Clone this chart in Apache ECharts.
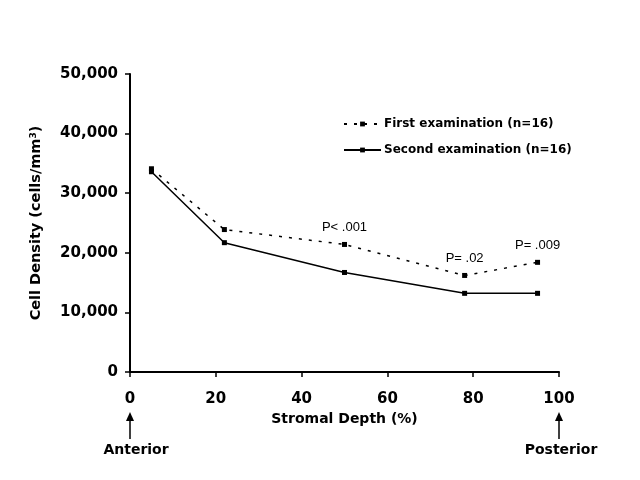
<!DOCTYPE html>
<html>
<head>
<meta charset="utf-8">
<script src="https://cdn.jsdelivr.net/npm/echarts@6/dist/echarts.min.js"></script>
<style>html,body{margin:0;padding:0;background:#fff}#c{width:640px;height:480px}</style>
</head>
<body>
<div id="c"></div>
<script>
var depths = [5, 22, 50, 78, 95];
var firstExam = [34100, 23900, 21400, 16200, 18400];
var secondExam = [33600, 21700, 16700, 13200, 13200];
var pLabels = ['', '', 'P< .001', 'P= .02', 'P= .009'];
var seriesNames = ['First examination (n=16)', 'Second examination (n=16)'];
var xTicks = [0, 20, 40, 60, 80, 100];
var yTicks = [0, 10000, 20000, 30000, 40000, 50000];

var bfont = '"DejaVu Sans", sans-serif';
var font = 'Arial, "Liberation Sans", sans-serif';
var chart = echarts.init(document.getElementById('c'));

function pairs(vals, withLabels) {
  return depths.map(function (d, i) {
    var item = { value: [d, vals[i]] };
    if (withLabels && pLabels[i]) {
      item.label = { show: true, formatter: pLabels[i], position: 'top', distance: 8,
        color: '#000', fontSize: 13, fontFamily: font };
    }
    return item;
  });
}

chart.setOption({
  animation: false,
  backgroundColor: '#fff',
  grid: { left: 130, right: 81, top: 74, bottom: 108, containLabel: false },
  legend: {
    orient: 'vertical', left: 338, top: 113, itemGap: 14, padding: 5,
    itemWidth: 37, itemHeight: 6,
    textStyle: { color: '#000', fontWeight: 'bold', fontSize: 12, fontFamily: bfont, padding: [0, 0, 0, -2] },
    data: seriesNames
  },
  xAxis: {
    type: 'value', min: xTicks[0], max: xTicks[xTicks.length - 1], interval: 20,
    name: 'Stromal Depth (%)', nameLocation: 'middle', nameGap: 37,
    nameTextStyle: { color: '#000', fontWeight: 'bold', fontSize: 14, fontFamily: bfont },
    axisLine: { lineStyle: { color: '#000', width: 2 } },
    axisTick: { show: true, length: 5, lineStyle: { color: '#000', width: 1.5 } },
    axisLabel: { color: '#000', fontWeight: 'bold', fontSize: 15, fontFamily: bfont, margin: 20 },
    splitLine: { show: false }
  },
  yAxis: {
    type: 'value', min: yTicks[0], max: yTicks[yTicks.length - 1], interval: 10000,
    name: '{a|Cell Density (cells/mm}{s|3}{a|)}', nameLocation: 'middle', nameGap: 86,
    nameRotate: 90,
    nameTextStyle: {
      rich: {
        a: { color: '#000', fontWeight: 'bold', fontSize: 14.5, fontFamily: bfont },
        s: { color: '#000', fontWeight: 'bold', fontSize: 9, fontFamily: bfont, verticalAlign: 'top', padding: [0, 0, 6, 0] }
      }
    },
    axisLine: { show: true, lineStyle: { color: '#000', width: 2 } },
    axisTick: { show: true, length: 5, lineStyle: { color: '#000', width: 1.5 } },
    axisLabel: {
      color: '#000', fontWeight: 'bold', fontSize: 15, fontFamily: bfont, margin: 12,
      formatter: function (v) { return v.toLocaleString('en-US'); }
    },
    splitLine: { show: false }
  },
  series: [
    {
      name: seriesNames[0], type: 'line', data: pairs(firstExam, true),
      symbol: 'rect', symbolSize: 5,
      lineStyle: { color: '#000', width: 1.5, type: [3, 7] },
      itemStyle: { color: '#000' }
    },
    {
      name: seriesNames[1], type: 'line', data: pairs(secondExam, false),
      symbol: 'rect', symbolSize: 5,
      lineStyle: { color: '#000', width: 1.5, type: 'solid' },
      itemStyle: { color: '#000' }
    }
  ]
});

var x0 = chart.convertToPixel({ xAxisIndex: 0 }, xTicks[0]);
var x1 = chart.convertToPixel({ xAxisIndex: 0 }, xTicks[xTicks.length - 1]);
function arrow(x, label, dx) {
  return [
    { type: 'line', shape: { x1: x, y1: 418, x2: x, y2: 439 }, style: { stroke: '#000', lineWidth: 1.5 } },
    { type: 'polygon', shape: { points: [[x, 412], [x - 4, 421], [x + 4, 421]] }, style: { fill: '#000' } },
    { type: 'text', x: x + dx, y: 450,
      style: { text: label, align: 'center', verticalAlign: 'middle', fill: '#000',
        font: 'bold 14px ' + bfont } }
  ];
}
chart.setOption({ graphic: arrow(x0, 'Anterior', 6).concat(arrow(x1, 'Posterior', 2)) });
</script>
</body>
</html>
